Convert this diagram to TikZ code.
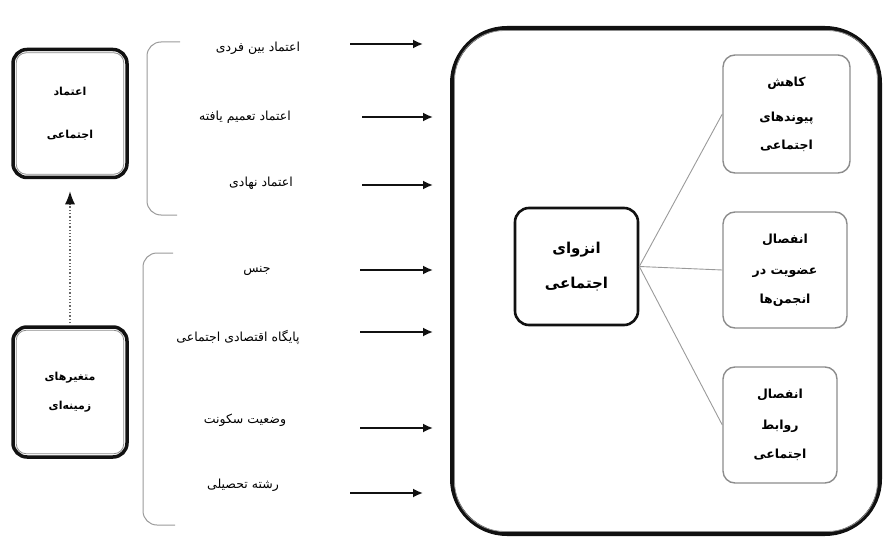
\documentclass[tikz,border=0pt]{standalone}
\usepackage{fontspec}
\newfontfamily\faFont[Script=Arabic]{DejaVu Sans}
\TeXXeTstate=1
\usetikzlibrary{positioning, calc, arrows.meta}
\definecolor{isoInk}{HTML}{111111}
\definecolor{isoGray}{HTML}{8C8C8C}
\definecolor{isoLine}{HTML}{9A9A9A}
\definecolor{isoDot}{HTML}{666666}
\newcommand{\fa}[1]{{\faFont\beginR #1\endR}}
\tikzset{
    isoBoxBase/.style={
        rectangle,
        draw=isoInk,
        align=center,
        font=\faFont\bfseries\fontsize{11}{13}\selectfont,
        inner sep=0pt
    },
    % Semantic Variants
    isoOuter/.style={isoBoxBase, line width=3.5pt, rounded corners=14pt, minimum width=114, minimum height=128},
    isoCore/.style={isoBoxBase, line width=2.6pt, rounded corners=14pt, minimum width=123, minimum height=117,
        font=\faFont\bfseries\fontsize{15}{18}\selectfont},
    isoLeaf/.style={isoBoxBase, draw=isoGray, line width=1.4pt, rounded corners=12pt, minimum height=116,
        font=\faFont\bfseries\fontsize{12.5}{15}\selectfont},
    isoFrame/.style={rectangle, draw=isoInk, line width=4pt, rounded corners=55pt, minimum width=428, minimum height=506},
    isoInnerLine/.style={draw=isoGray, line width=0.8pt},
    isoLabel/.style={font=\faFont\fontsize{12.5}{15}\selectfont, inner sep=2pt},
    % Arrows
    isoArrow/.style={-{Latex[length=10pt,width=9pt]}, line width=1.8pt, draw=isoInk},
    isoDotted/.style={-{Latex[length=13pt,width=10pt,color=isoInk]}, dotted, line width=1.3pt, draw=isoDot},
    isoBrace/.style={draw=isoLine, line width=1pt, rounded corners=14pt},
    isoLink/.style={draw=isoLine, line width=0.9pt}
}

\begin{document}
\begin{tikzpicture}[x=1pt, y=-1pt]
    \useasboundingbox (0,0) rectangle (888,540);

    % left side
    \node[isoOuter] (trust) at (70,113.5) {\fa{اعتماد}\\[30pt]\fa{اجتماعی}};
    \node[isoOuter, minimum height=130] (context) at (70,392) {\fa{متغیرهای}\\[16pt]\fa{زمینه^^^^200cای}};
    \draw[isoInnerLine, rounded corners=10pt] ([shift={(5,5)}]trust.north west) rectangle ([shift={(-5,-5)}]trust.south east);
    \draw[isoInnerLine, rounded corners=10pt] ([shift={(5,5)}]context.north west) rectangle ([shift={(-5,-5)}]context.south east);
    \draw[isoDotted, shorten <=2pt, shorten >=12pt] (context.north) -- (trust.south);

    % brackets
    \draw[isoBrace] (180,42) -- (147,42) -- (147,215) -- (177,215);
    \draw[isoBrace] (173,253) -- (143,253) -- (143,525) -- (175,525);

    % labels
    \node[isoLabel] (interTrust) at (258,48) {\fa{اعتماد بین فردی}};
    \node[isoLabel] (genTrust) at (245,117) {\fa{اعتماد تعمیم یافته}};
    \node[isoLabel] (instTrust) at (261,183) {\fa{اعتماد نهادی}};
    \node[isoLabel] (gender) at (257,271) {\fa{جنس}};
    \node[isoLabel] (ses) at (238,337) {\fa{پایگاه اقتصادی اجتماعی}};
    \node[isoLabel] (residence) at (245,420) {\fa{وضعیت سکونت}};
    \node[isoLabel] (major) at (243,485) {\fa{رشته تحصیلی}};

    % main frame
    \node[isoFrame] (frame) at (666,281) {};
    \draw[isoInnerLine, rounded corners=50pt] ([shift={(4.5,4.5)}]frame.north west) rectangle ([shift={(-4.5,-4.5)}]frame.south east);

    \node[isoCore] (isolation) at (576.5,266.5) {\fa{انزوای}\\[17pt]\fa{اجتماعی}};
    \node[isoLeaf, minimum width=127, minimum height=118] (ties) at (786.5,114) {\fa{کاهش}\\[20pt]\fa{پیوندهای}\\[13pt]\fa{اجتماعی}};
    \node[isoLeaf, minimum width=124] (assoc) at (785,270) {\fa{انفصال}\\[16pt]\fa{عضویت در}\\[14pt]\fa{انجمن^^^^200cها}};
    \node[isoLeaf, minimum width=114] (relations) at (780,425) {\fa{انفصال}\\[16pt]\fa{روابط}\\[14pt]\fa{اجتماعی}};

    \draw[isoLink] (isolation.east) -- (ties.west);
    \draw[isoLink] (isolation.east) -- (assoc.west);
    \draw[isoLink] (isolation.east) -- (relations.west);

    % arrows into frame
    \coordinate (t1) at (350,44);
    \coordinate (t2) at (362,117);
    \coordinate (t3) at (362,185);
    \coordinate (t4) at (360,270);
    \coordinate (t5) at (360,332);
    \coordinate (t6) at (360,428);
    \coordinate (t7) at (350,493);
    \draw[isoArrow, shorten >=27pt] (t1) -- (t1 -| frame.west);
    \draw[isoArrow, shorten >=17pt] (t2) -- (t2 -| frame.west);
    \draw[isoArrow, shorten >=17pt] (t3) -- (t3 -| frame.west);
    \draw[isoArrow, shorten >=17pt] (t4) -- (t4 -| frame.west);
    \draw[isoArrow, shorten >=17pt] (t5) -- (t5 -| frame.west);
    \draw[isoArrow, shorten >=17pt] (t6) -- (t6 -| frame.west);
    \draw[isoArrow, shorten >=27pt] (t7) -- (t7 -| frame.west);
\end{tikzpicture}
\end{document}
